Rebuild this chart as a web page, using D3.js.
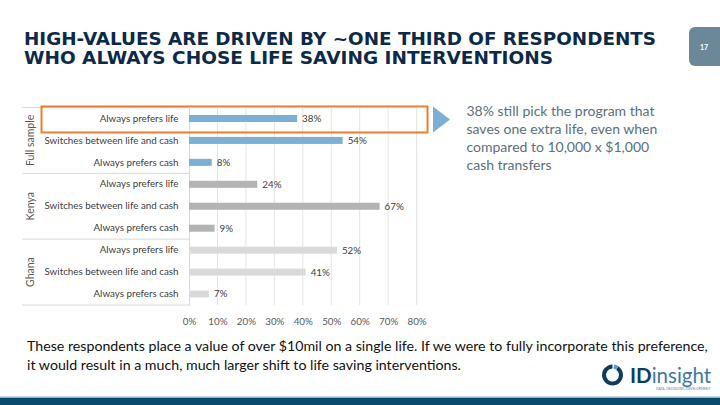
<!DOCTYPE html>
<html>
<head>
<meta charset="utf-8">
<script src="https://cdn.jsdelivr.net/npm/d3@7"></script>
<style>
  html, body { margin: 0; padding: 0; background: #fff; }
  svg { display: block; }
</style>
</head>
<body>
<svg id="slide" width="720" height="405"></svg>
<script>
// chart values
const groups = ["Full sample", "Kenya", "Ghana"];
const categories = ["Always prefers life", "Switches between life and cash", "Always prefers cash"];
const fullSample = [0.38, 0.54, 0.08];
const kenya = [0.24, 0.67, 0.09];
const ghana = [0.52, 0.41, 0.07];
const tickValues = [0, 0.1, 0.2, 0.3, 0.4, 0.5, 0.6, 0.7, 0.8];
const groupColors = ["#7bafd4", "#b3b3b3", "#d9d9d9"];

const titleLines = ["HIGH-VALUES ARE DRIVEN BY ~ONE THIRD OF RESPONDENTS", "WHO ALWAYS CHOSE LIFE SAVING INTERVENTIONS"];
const titleWidths = [632, 529];
const noteLines = ["38% still pick the program that", "saves one extra life, even when", "compared to 10,000 x $1,000", "cash transfers"];
const footLines = ["These respondents place a value of over $10mil on a single life. If we were to fully incorporate this preference,",
                   "it would result in a much, much larger shift to life saving interventions."];

const series = [fullSample, kenya, ghana];
const rows = [];
groups.forEach((g, gi) => {
    categories.forEach((c, ci) => {
        rows.push({ key: g + "|" + c, group: g, gi: gi, cat: c, value: series[gi][ci] });
    });
});

const svg = d3.select("#slide");
const font = "Lato, 'Noto Sans', sans-serif";

// title
svg.append("g").selectAll("text")
    .data(titleLines)
    .join("text")
    .attr("x", 24)
    .attr("y", (d, i) => 45 + i * 19.3)
    .attr("font-family", "'DejaVu Sans', Verdana, sans-serif")
    .attr("font-weight", "bold")
    .attr("font-size", 18)
    .attr("textLength", (d, i) => titleWidths[i])
    .attr("lengthAdjust", "spacingAndGlyphs")
    .attr("fill", "#0c2a48")
    .text(d => d);

// page number tab
svg.append("rect").attr("x", 689).attr("y", 27).attr("width", 40).attr("height", 39)
    .attr("rx", 6).attr("fill", "#6b8798");
svg.append("text").attr("x", 704).attr("y", 49.5).attr("text-anchor", "middle")
    .attr("font-family", font).attr("font-weight", "bold").attr("font-size", 7).attr("fill", "#fff").text("17");

// scales
const x = d3.scaleLinear().domain([0, 0.8]).range([189, 416.6]);
const y = d3.scaleBand().domain(rows.map(d => d.key)).range([107.5, 305])
    .paddingInner(0.68).paddingOuter(0.34);
const step = y.step();
const plotTop = 107.5;

const chart = svg.append("g");

// gridlines
chart.append("g").selectAll("line")
    .data(tickValues.slice(1))
    .join("line")
    .attr("x1", d => x(d)).attr("x2", d => x(d))
    .attr("y1", plotTop).attr("y2", 305)
    .attr("stroke", "#e3e3e3").attr("stroke-width", 1);

// x axis labels
const xAxis = d3.axisBottom(x).tickValues(tickValues).tickFormat(d3.format(".0%")).tickSize(0).tickPadding(0);
const xg = chart.append("g").attr("transform", "translate(0,318)").call(xAxis);
xg.select(".domain").remove();
xg.selectAll("text").attr("font-family", font).attr("font-size", 9.8).attr("fill", "#595959");

// category axis
const yAxis = d3.axisLeft(y).tickSize(0).tickPadding(10.5).tickFormat(k => k.split("|")[1]);
const yg = chart.append("g").attr("transform", "translate(189,0)").call(yAxis);
yg.select(".domain").attr("stroke", "#d9d9d9");
yg.selectAll("text").attr("font-family", font).attr("font-size", 9.8).attr("fill", "#404040");

// group separators and labels
const bounds = d3.range(groups.length + 1).map(i => plotTop + i * categories.length * step);
chart.append("g").selectAll("line")
    .data(bounds)
    .join("line")
    .attr("x1", 22).attr("x2", 189)
    .attr("y1", d => d).attr("y2", d => d)
    .attr("stroke", "#d9d9d9").attr("stroke-width", 1);

chart.append("g").selectAll("text")
    .data(groups)
    .join("text")
    .attr("transform", (d, i) => `translate(34,${(bounds[i] + bounds[i + 1]) / 2}) rotate(-90)`)
    .attr("text-anchor", "middle")
    .attr("font-family", font).attr("font-size", 10.5).attr("fill", "#595959")
    .text(d => d);

// bars
chart.append("g").selectAll("rect")
    .data(rows)
    .join("rect")
    .attr("x", x(0))
    .attr("y", d => y(d.key))
    .attr("width", d => x(d.value) - x(0))
    .attr("height", y.bandwidth())
    .attr("fill", d => groupColors[d.gi]);

chart.append("g").selectAll("text")
    .data(rows)
    .join("text")
    .attr("x", d => x(d.value) + 5)
    .attr("y", d => y(d.key) + y.bandwidth() / 2)
    .attr("dy", "0.35em")
    .attr("font-family", font).attr("font-size", 9.8).attr("fill", "#404040")
    .text(d => d3.format(".0%")(d.value));

// highlight box + arrow
const r0 = y(rows[0].key) + y.bandwidth() / 2;
svg.append("rect").attr("x", 41.5).attr("y", r0 - 12).attr("width", 386).attr("height", 26)
    .attr("fill", "none").attr("stroke", "#ed7d31").attr("stroke-width", 2);
svg.append("path")
    .attr("d", `M433,${r0 - 12}L450,${r0 + 1}L433,${r0 + 14}Z`)
    .attr("fill", "#7bafd4");

svg.append("g").selectAll("text")
    .data(noteLines)
    .join("text")
    .attr("x", 466.5)
    .attr("y", (d, i) => 116 + i * 18)
    .attr("font-family", font).attr("font-size", 14).attr("fill", "#5a6f80")
    .text(d => d);

// footnote
svg.append("g").selectAll("text")
    .data(footLines)
    .join("text")
    .attr("x", 27)
    .attr("y", (d, i) => 351 + i * 18.5)
    .attr("font-family", font).attr("font-size", 14.2).attr("fill", "#111")
    .text(d => d);

// logo
const logo = svg.append("g");
const arc = d3.arc().innerRadius(6.5).outerRadius(10.5);
logo.append("path").attr("transform", "translate(612.5,375)")
    .attr("d", arc({ startAngle: 0.6, endAngle: 2 * Math.PI }))
    .attr("fill", "#0d3c61");
logo.append("path").attr("transform", "translate(612.5,375)")
    .attr("d", arc({ startAngle: 0.15, endAngle: 0.6 }))
    .attr("fill", "#5b9ac9");
const lt = logo.append("text").attr("x", 630).attr("y", 383)
    .attr("font-family", font).attr("font-size", 20.5);
lt.append("tspan").attr("font-weight", "bold").attr("fill", "#0d3c61").text("ID");
lt.append("tspan").attr("fill", "#3f78a6").text("insight");
logo.append("text").attr("x", 711).attr("y", 389.5).attr("text-anchor", "end")
    .attr("font-family", font).attr("font-size", 3.4).attr("fill", "#5b7d99")
    .text("DATA. DECISIONS. DEVELOPMENT.");

// footer band
svg.append("rect").attr("x", 0).attr("y", 396.5).attr("width", 720).attr("height", 1.5).attr("fill", "#8fb3cc");
svg.append("rect").attr("x", 0).attr("y", 398).attr("width", 720).attr("height", 7).attr("fill", "#0b4a6f");
</script>
</body>
</html>
